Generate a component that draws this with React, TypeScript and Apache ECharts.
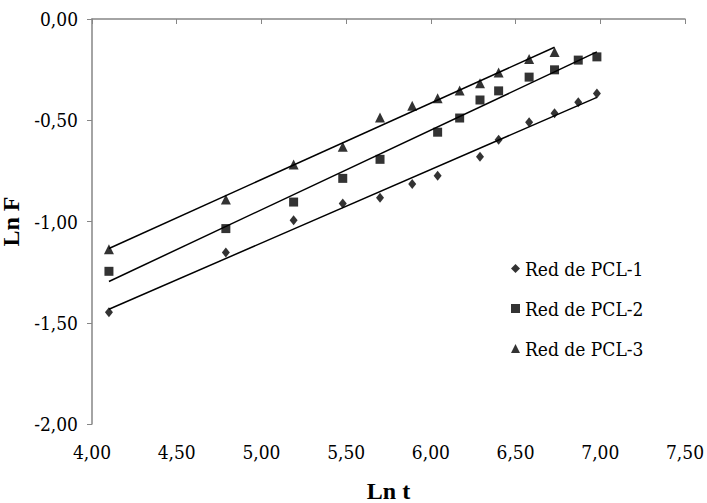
import React, { useEffect, useRef } from "react";
import * as echarts from "echarts";

const xPCL1 = [4.10, 4.79, 5.19, 5.48, 5.70, 5.89, 6.04, 6.29, 6.40, 6.58, 6.73, 6.87, 6.98];
const yPCL1 = [-1.448, -1.153, -0.994, -0.911, -0.883, -0.815, -0.774, -0.680, -0.596, -0.510, -0.465, -0.411, -0.368];

const xPCL2 = [4.10, 4.79, 5.19, 5.48, 5.70, 6.04, 6.17, 6.29, 6.40, 6.58, 6.73, 6.87, 6.98];
const yPCL2 = [-1.246, -1.035, -0.904, -0.787, -0.693, -0.559, -0.489, -0.400, -0.355, -0.287, -0.251, -0.203, -0.187];

const xPCL3 = [4.10, 4.79, 5.19, 5.48, 5.70, 5.89, 6.04, 6.17, 6.29, 6.40, 6.58, 6.73];
const yPCL3 = [-1.137, -0.891, -0.718, -0.631, -0.487, -0.429, -0.391, -0.353, -0.317, -0.264, -0.198, -0.163];

const seriesNames = ["Red de PCL-1", "Red de PCL-2", "Red de PCL-3"];
const symbols = ["diamond", "rect", "triangle"];
const symbolSizes = [[8, 10], [9, 9], [10, 10]];

function fit(xs: number[], ys: number[]) {
  const n = xs.length;
  const mx = xs.reduce((a, b) => a + b, 0) / n;
  const my = ys.reduce((a, b) => a + b, 0) / n;
  let sxy = 0, sxx = 0;
  for (let i = 0; i < n; i++) {
    sxy += (xs[i] - mx) * (ys[i] - my);
    sxx += (xs[i] - mx) * (xs[i] - mx);
  }
  const b = sxy / sxx;
  const a = my - b * mx;
  const x0 = Math.min(...xs), x1 = Math.max(...xs);
  return [[x0, a + b * x0], [x1, a + b * x1]];
}

const fmt = (v: number) => v.toFixed(2).replace(".", ",");

export default function App() {
  const ref = useRef<HTMLDivElement>(null);
  useEffect(() => {
    if (!ref.current) return;
    const chart = echarts.init(ref.current, undefined, { renderer: "svg" });
    const xs = [xPCL1, xPCL2, xPCL3];
    const ys = [yPCL1, yPCL2, yPCL3];
    const titleFont = "Liberation Serif";
    const bodyFont = "DejaVu Serif Condensed, DejaVu Serif";
    const axisColor = "#868686";
    const scatter = seriesNames.map((name, i) => ({
      name,
      type: "scatter",
      symbol: symbols[i],
      symbolSize: symbolSizes[i],
      itemStyle: { color: "#000" },
      data: xs[i].map((x, j) => [x, ys[i][j]]),
      z: 3,
    }));
    const trends = xs.map((x, i) => ({
      name: "trend" + i,
      type: "line",
      data: fit(x, ys[i]),
      symbol: "none",
      lineStyle: { color: "#000", width: 1.5 },
      itemStyle: { color: "#000" },
      z: 2,
      silent: true,
    }));
    chart.setOption({
      animation: false,
      backgroundColor: "#fff",
      textStyle: { fontFamily: bodyFont },
      grid: { left: 92, right: 22, top: 19, bottom: 79, containLabel: false, outerBoundsMode: "none" },
      legend: {
        data: seriesNames,
        orient: "vertical",
        left: 506,
        top: 254,
        itemWidth: 9,
        itemHeight: 9,
        itemGap: 21,
        textStyle: { fontFamily: bodyFont, fontSize: 19, color: "#000" },
      },
      xAxis: {
        type: "value",
        min: 4,
        max: 7.5,
        interval: 0.5,
        name: "Ln t",
        nameLocation: "middle",
        nameGap: 55,
        nameTextStyle: { fontFamily: titleFont, fontSize: 24, fontWeight: "bold", color: "#000" },
        axisLine: { show: true, lineStyle: { color: axisColor, width: 1.5 } },
        axisTick: { show: true, inside: false, length: 5, lineStyle: { color: axisColor, width: 1 } },
        axisLabel: { fontFamily: bodyFont, fontSize: 19, color: "#000", formatter: fmt, margin: 18 },
        splitLine: { show: false },
      },
      yAxis: {
        type: "value",
        min: -2,
        max: 0,
        interval: 0.5,
        name: "Ln F",
        nameLocation: "middle",
        nameGap: 58,
        nameTextStyle: { fontFamily: titleFont, fontSize: 24, fontWeight: "bold", color: "#000" },
        axisLine: { show: true, lineStyle: { color: axisColor, width: 1.5 } },
        axisTick: { show: true, inside: false, length: 5, lineStyle: { color: axisColor, width: 1 } },
        axisLabel: { fontFamily: bodyFont, fontSize: 19, color: "#000", formatter: fmt, margin: 14 },
        splitLine: { show: false },
      },
      series: [...trends, ...scatter],
    });
    return () => chart.dispose();
  }, []);
  return (
    <div
      ref={ref}
      style={{ position: "fixed", left: 0, top: 0, width: 707, height: 503, background: "#fff" }}
    />
  );
}
